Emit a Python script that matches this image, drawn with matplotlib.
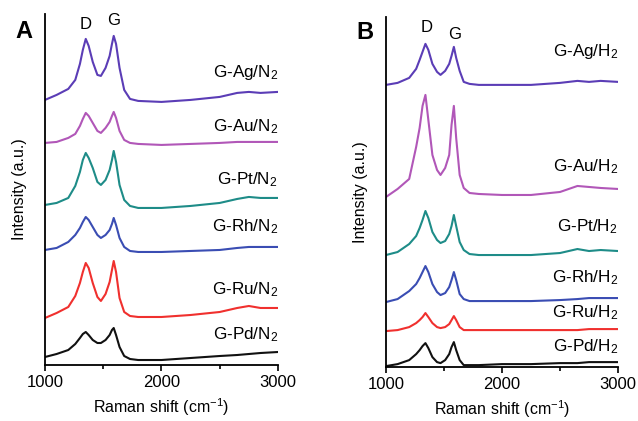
import numpy as np
import matplotlib
matplotlib.use('Agg')
import matplotlib.pyplot as plt
from matplotlib.ticker import MultipleLocator

plt.rcParams['font.family'] = ['Liberation Sans', 'DejaVu Sans']
plt.rcParams['mathtext.default'] = 'regular'

# Raman shift grids (cm-1)
shift_a = [1000, 1100, 1200, 1260, 1300, 1325, 1350, 1375, 1410, 1450, 1480, 1520, 1555, 1575,
           1590, 1610, 1640, 1680, 1730, 1800, 2000, 2250, 2500, 2650, 2750, 2850, 3000]
shift_b = [1000, 1100, 1200, 1260, 1290, 1315, 1340, 1365, 1400, 1440, 1470, 1510, 1545, 1565,
           1585, 1605, 1635, 1670, 1720, 1800, 2000, 2250, 2500, 2650, 2750, 2850, 3000]

# panel A, annealed in N2 (a.u., baseline ~0)
ag_n2 = [1, 6, 12, 21, 37, 51, 62, 55, 39, 26, 25, 33, 45, 57, 65, 57, 33, 11, 2, 0, -1, 1, 4, 8, 9, 8, 9]
au_n2 = [1, 2, 6, 10, 18, 25, 31, 28, 21, 13, 11, 16, 22, 28, 32, 26, 13, 4, 1, 0, -1, 0, 1, 2, 2, 2, 2]
pt_n2 = [3, 5, 10, 22, 36, 48, 55, 50, 40, 26, 23, 28, 38, 48, 57, 46, 23, 8, 2, 0, 0, 2, 5, 9, 11, 10, 10]
rh_n2 = [2, 4, 10, 17, 24, 30, 35, 32, 25, 17, 14, 17, 22, 28, 34, 27, 14, 5, 1, 0, 0, 1, 2, 4, 5, 5, 5]
ru_n2 = [-1, 4, 10, 21, 34, 45, 54, 49, 34, 20, 16, 23, 35, 47, 56, 45, 19, 5, 1, 0, 0, 2, 5, 9, 11, 9, 9]
pd_n2 = [3, 6, 10, 16, 22, 26, 28, 25, 20, 17, 17, 20, 25, 30, 32, 25, 13, 4, 1, 0, 0, 2, 4, 5, 6, 7, 8]

# panel B, annealed in H2
ag_h2 = [0, 2, 7, 16, 25, 33, 41, 35, 21, 13, 10, 14, 21, 29, 38, 27, 14, 3, 1, 0, 0, 0, 2, 4, 3, 4, 3]
au_h2 = [-2, 6, 16, 48, 67, 89, 100, 75, 40, 25, 20, 27, 40, 70, 89, 57, 20, 7, 2, 1, 0, 0, 3, 9, 8, 7, 6]
pt_h2 = [0, 3, 11, 19, 27, 35, 44, 37, 23, 15, 12, 14, 21, 29, 40, 29, 13, 5, 1, 0, 0, 0, 2, 6, 4, 5, 4]
rh_h2 = [-1, 2, 10, 17, 23, 29, 35, 29, 17, 9, 6, 8, 14, 21, 29, 21, 7, 2, 0, 0, 0, 0, 1, 2, 3, 3, 3]
ru_h2 = [-1, 0, 3, 7, 10, 13, 17, 13, 7, 3, 2, 3, 6, 10, 14, 10, 3, 0, 0, 0, 0, 0, 0, 0, 1, 1, 1]
pd_h2 = [-1, 1, 5, 11, 15, 19, 22, 17, 8, 3, 2, 5, 11, 18, 23, 15, 5, 0, 0, 0, 1, 1, 2, 2, 3, 3, 3]

metals = ['Ag', 'Au', 'Pt', 'Rh', 'Ru', 'Pd']
colors = ['#5b3db6', '#b157b8', '#1e8c88', '#3a4db3', '#f0302e', '#111111']

# vertical stacking offsets and label heights
offsets_a = [264, 221, 157, 113, 48, 5]
offsets_b = [282, 172, 112, 66, 37, 2]
label_y_a = [292, 238, 185, 138, 75, 30]
label_y_b = [315, 200, 140, 89, 54, 20]


def panel(ax, shift, spectra, offsets, label_y, gas, top, dg):
    for spec, off, ly, metal, c in zip(spectra, offsets, label_y, metals, colors):
        ax.plot(shift, np.array(spec) + off, color=c, lw=1.5)
        ax.text(3000, ly, 'G-%s/%s$_2$' % (metal, gas), ha='right', va='center', fontsize=12.3)
    for txt, (x, y) in zip(['D', 'G'], dg):
        ax.text(x, y, txt, ha='center', va='center', fontsize=12)
    ax.set_xlim(1000, 3000)
    ax.set_ylim(0, top)
    ax.set_yticks([])
    ax.xaxis.set_major_locator(MultipleLocator(1000))
    ax.xaxis.set_minor_locator(MultipleLocator(500))
    ax.tick_params(axis='x', which='major', length=4, width=1.2, labelsize=12, pad=3)
    ax.tick_params(axis='x', which='minor', length=3, width=1.2)
    for s in ['top', 'right']:
        ax.spines[s].set_visible(False)
    for s in ['left', 'bottom']:
        ax.spines[s].set_linewidth(1.3)
    ax.set_xlabel('Raman shift (cm$^{-1}$)', fontsize=11.5, labelpad=5)
    ax.set_ylabel('Intensity (a.u.)', fontsize=11.5, labelpad=13)


fig = plt.figure(figsize=(6.38, 4.21), dpi=100)
ax1 = fig.add_axes([0.0705, 0.133, 0.3652, 0.834])
ax2 = fig.add_axes([0.605, 0.128, 0.3637, 0.832])

panel(ax1, shift_a, [ag_n2, au_n2, pt_n2, rh_n2, ru_n2, pd_n2], offsets_a, label_y_a,
      'N', 351, [(1352, 340), (1592, 344)])
panel(ax2, shift_b, [ag_h2, au_h2, pt_h2, rh_h2, ru_h2, pd_h2], offsets_b, label_y_b,
      'H', 350, [(1353, 339), (1595, 332)])

fig.text(0.038, 0.924, 'A', fontsize=17, fontweight='bold', ha='center', va='center')
fig.text(0.572, 0.922, 'B', fontsize=17, fontweight='bold', ha='center', va='center')

fig.savefig('out.png', dpi=100)
